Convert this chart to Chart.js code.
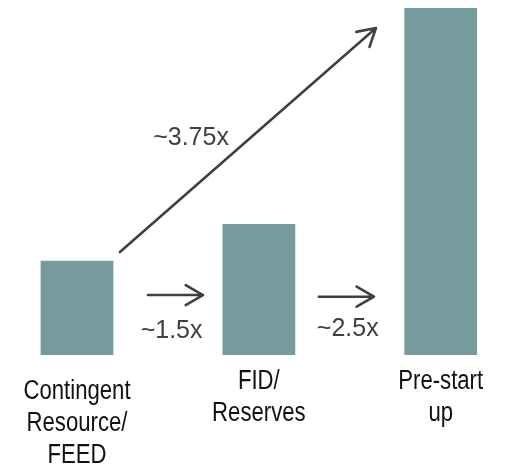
<!DOCTYPE html>
<html>
<head>
<meta charset="utf-8">
<title>Value uplift by stage</title>
<script src="https://cdn.jsdelivr.net/npm/chart.js@4.4.1/dist/chart.umd.min.js"></script>
<style>
  html, body { margin: 0; padding: 0; background: #fff; }
  canvas { display: block; }
</style>
</head>
<body>
<canvas id="stage-chart" width="506" height="467"></canvas>
<script>
// Stages and relative value (first stage = 1)
const stages = [
  ['Contingent', 'Resource/', 'FEED'],
  ['FID/', 'Reserves'],
  ['Pre-start', 'up']
];
const relativeValue = [1, 1.39, 3.68];
const multipliers = ['~1.5x', '~2.5x', '~3.75x'];

const barColor = '#759b9f';
const arrowColor = '#404040';
const stageFont = '27px "Liberation Sans", Arial, sans-serif';
const narrow = 0.82; // condensed look for the stage names
const multFont = '25px "Liberation Sans", Arial, sans-serif';

// arrow head: open chevron at the end point
function drawArrow(ctx, x1, y1, x2, y2) {
  const angle = Math.atan2(y2 - y1, x2 - x1);
  const len = 20;
  const spread = Math.PI / 6;
  ctx.beginPath();
  ctx.moveTo(x1, y1);
  ctx.lineTo(x2, y2);
  ctx.moveTo(x2 - len * Math.cos(angle - spread), y2 - len * Math.sin(angle - spread));
  ctx.lineTo(x2, y2);
  ctx.lineTo(x2 - len * Math.cos(angle + spread), y2 - len * Math.sin(angle + spread));
  ctx.stroke();
}

// stage names under the bars and the uplift arrows
const stagePlugin = {
  id: 'stageLabels',
  afterDatasetsDraw(chart) {
    const { ctx, chartArea } = chart;
    const x = chart.scales.x;
    const y = chart.scales.y;

    ctx.save();
    ctx.scale(narrow, 1);
    ctx.font = stageFont;
    ctx.fillStyle = '#111';
    ctx.textAlign = 'center';
    ctx.textBaseline = 'alphabetic';
    stages.forEach((lines, i) => {
      const cx = x.getPixelForValue(i) / narrow;
      const first = chartArea.bottom + (lines.length > 2 ? 44 : 34);
      lines.forEach((line, j) => {
        ctx.fillText(line, cx, first + j * 32);
      });
    });
    ctx.restore();

    ctx.save();
    ctx.strokeStyle = arrowColor;
    ctx.lineWidth = 2.6;
    ctx.lineCap = 'round';
    ctx.lineJoin = 'round';
    drawArrow(ctx, x.getPixelForValue(0.39), y.getPixelForValue(0.636),
                   x.getPixelForValue(0.693), y.getPixelForValue(0.636));
    drawArrow(ctx, x.getPixelForValue(1.33), y.getPixelForValue(0.618),
                   x.getPixelForValue(1.633), y.getPixelForValue(0.618));
    drawArrow(ctx, x.getPixelForValue(0.236), y.getPixelForValue(1.092),
                   x.getPixelForValue(1.644), y.getPixelForValue(3.468));

    ctx.font = multFont;
    ctx.fillStyle = arrowColor;
    ctx.textAlign = 'center';
    ctx.textBaseline = 'middle';
    ctx.fillText(multipliers[0], x.getPixelForValue(0.52), y.getPixelForValue(0.255));
    ctx.fillText(multipliers[1], x.getPixelForValue(1.489), y.getPixelForValue(0.273));
    ctx.fillText(multipliers[2], x.getPixelForValue(0.627), y.getPixelForValue(2.3));
    ctx.restore();
  }
};

const ctx = document.getElementById('stage-chart').getContext('2d');
new Chart(ctx, {
  type: 'bar',
  data: {
    labels: stages.map((s) => s.join(' ')),
    datasets: [{
      data: relativeValue,
      backgroundColor: barColor,
      borderWidth: 0,
      barPercentage: 0.4,
      categoryPercentage: 1,
      clip: false
    }]
  },
  options: {
    responsive: false,
    animation: false,
    layout: { padding: { left: 77, right: 65.3, top: 0, bottom: 112 } },
    plugins: {
      legend: { display: false },
      tooltip: { enabled: false }
    },
    scales: {
      x: { display: false, offset: false },
      y: { display: false, min: 0, max: 3.765 }
    }
  },
  plugins: [stagePlugin]
});
</script>
</body>
</html>
